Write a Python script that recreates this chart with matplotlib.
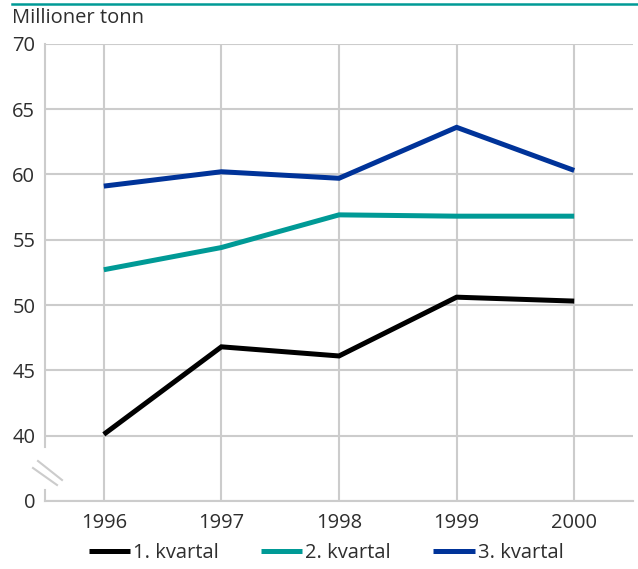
import matplotlib
matplotlib.use("Agg")
import matplotlib.pyplot as plt
from matplotlib.lines import Line2D

# Data
years = [1996, 1997, 1998, 1999, 2000]
kvartal_1 = [40.1, 46.8, 46.1, 50.6, 50.3]
kvartal_2 = [52.7, 54.4, 56.9, 56.8, 56.8]
kvartal_3 = [59.1, 60.2, 59.7, 63.6, 60.3]
series_names = ["1. kvartal", "2. kvartal", "3. kvartal"]
y_ticks = [35, 40, 45, 50, 55, 60, 65, 70]
y_labels = ["0", "40", "45", "50", "55", "60", "65", "70"]

colors = ["#000000", "#009a96", "#003399"]
grid_col = "#cccccc"
text_col = "#2e2e2e"
fs = 14.5

plt.rcParams["font.family"] = ["Open Sans", "DejaVu Sans"]

W, H = 638, 569
fig = plt.figure(figsize=(W / 100, H / 100), dpi=100)
ax = fig.add_axes([45 / W, 1 - 501 / H, (633 - 45) / W, (501 - 43.7) / H])

for vals, name, c in zip([kvartal_1, kvartal_2, kvartal_3], series_names, colors):
    ax.plot(years, vals, color=c, lw=3.6, label=name, solid_capstyle="butt",
            solid_joinstyle="miter", zorder=3)

ax.set_xlim(1995.5, 2000.5)
ax.set_ylim(35, 70)
ax.set_xticks(years)
ax.set_yticks(y_ticks)
ax.set_yticklabels(y_labels)
ax.grid(True, color=grid_col, lw=1.5, zorder=0)
ax.tick_params(length=0, labelsize=fs, colors=text_col)
ax.tick_params(axis="y", pad=7)
ax.tick_params(axis="x", pad=9)

for s in ["top", "right", "left"]:
    ax.spines[s].set_visible(False)
ax.spines["bottom"].set_color(grid_col)
ax.spines["bottom"].set_linewidth(1.5)

# left axis with a break between 0 and 40
ax.plot([1995.5, 1995.5], [39.1, 70], color=grid_col, lw=1.5, clip_on=False, zorder=2)
ax.plot([1995.5, 1995.5], [35, 35.85], color=grid_col, lw=1.5, clip_on=False, zorder=2)

def px(x, y):
    return x / W, 1 - y / H

for (x0, y0), (x1, y1) in [((33, 468), (57, 485)), ((38, 461), (62, 480))]:
    a, b = px(x0, y0)
    c, d = px(x1, y1)
    fig.add_artist(Line2D([a, c], [b, d], color=grid_col, lw=1.5))

# top rule and unit label
a, b = px(12, 3.5)
c, d = px(638, 3.5)
fig.add_artist(Line2D([a, c], [b, d], color=colors[1], lw=1.8))
fig.text(12 / W, 1 - 18 / H, "Millioner tonn", fontsize=fs, color=text_col,
         ha="left", va="center")

fig.legend(loc="center", bbox_to_anchor=(326 / W, 1 - 553 / H), ncol=3,
           frameon=False, fontsize=fs, handlelength=2.05, handletextpad=0.15,
           columnspacing=2.1, labelcolor=text_col)

fig.savefig("out.png", dpi=100)
